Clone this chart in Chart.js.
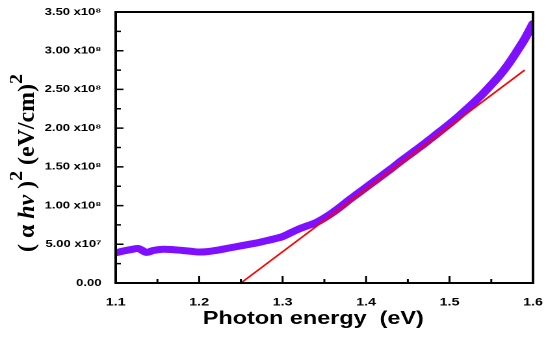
<!DOCTYPE html>
<html>
<head>
<meta charset="utf-8">
<script src="https://cdn.jsdelivr.net/npm/chart.js@4.4.1/dist/chart.umd.min.js"></script>
<style>
  html, body { margin: 0; padding: 0; background: #fff; overflow: hidden; }
  /* the source picture is stretched sideways, so draw narrow and stretch */
  #wrap { width: 423px; height: 337px; transform: scaleX(1.3); transform-origin: 0 0; }
</style>
</head>
<body>
<div id="wrap"><canvas id="tauc" width="423" height="337"></canvas></div>
<script>
// Photon energy (eV) and (alpha h v)^2 values
const energy = [1.10, 1.11, 1.12, 1.127, 1.137, 1.145, 1.155, 1.17, 1.18, 1.19,
  1.20, 1.21, 1.22, 1.23, 1.24, 1.25, 1.26, 1.27, 1.28, 1.29,
  1.30, 1.31, 1.32, 1.33, 1.34, 1.35, 1.36, 1.37, 1.38, 1.39,
  1.40, 1.41, 1.42, 1.43, 1.44, 1.45, 1.46, 1.47, 1.48, 1.49,
  1.50, 1.51, 1.52, 1.53, 1.54, 1.55, 1.56, 1.57, 1.58, 1.59, 1.60];
const alphaHv2 = [3.9e7, 4.15e7, 4.35e7, 4.45e7, 3.95e7, 4.2e7, 4.35e7, 4.3e7, 4.2e7, 4.1e7,
  4.0e7, 4.05e7, 4.2e7, 4.4e7, 4.6e7, 4.8e7, 5.0e7, 5.2e7, 5.45e7, 5.7e7,
  6.0e7, 6.5e7, 7.0e7, 7.4e7, 7.8e7, 8.4e7, 9.1e7, 9.9e7, 1.075e8, 1.155e8,
  1.235e8, 1.315e8, 1.395e8, 1.475e8, 1.56e8, 1.64e8, 1.72e8, 1.80e8, 1.885e8, 1.97e8,
  2.055e8, 2.145e8, 2.24e8, 2.34e8, 2.445e8, 2.56e8, 2.68e8, 2.82e8, 2.98e8, 3.15e8, 3.35e8];

// linear fit (band gap extrapolation)
const fitEnergy = [1.25, 1.59];
const fitValue = [0, 2.75e8];

const xMin = 1.1, xMax = 1.6, xStep = 0.1, xMinorStep = 0.05;
const yMin = 0, yMax = 3.5e8, yStep = 5e7, yMinorStep = 2.5e7;

const SANS = 'Arial, "Liberation Sans", sans-serif';
const SERIF = '"Times New Roman", "Liberation Serif", serif';

function yLabel(v) {
  if (v === 0) return '0.00';
  if (v < 1e8) return (v / 1e7).toFixed(2) + ' x10\u2077';
  return (v / 1e8).toFixed(2) + ' x10\u2078';
}

// frame, inward ticks and the two axis titles
const framePlugin = {
  id: 'framePlugin',
  afterDraw(chart) {
    const { ctx, chartArea: a, scales: { x, y } } = chart;
    ctx.save();
    ctx.strokeStyle = '#000';
    ctx.lineWidth = 1.5;
    ctx.beginPath();
    const nx = Math.round((xMax - xMin) / xMinorStep);
    for (let i = 0; i <= nx; i++) {
      const px = x.getPixelForValue(xMin + i * xMinorStep);
      const len = i % 2 === 0 ? 7 : 4;
      ctx.moveTo(px, a.bottom);
      ctx.lineTo(px, a.bottom - len);
    }
    const ny = Math.round((yMax - yMin) / yMinorStep);
    for (let i = 0; i <= ny; i++) {
      const py = y.getPixelForValue(yMin + i * yMinorStep);
      const len = i % 2 === 0 ? 6 : 4;
      ctx.moveTo(a.left, py);
      ctx.lineTo(a.left + len, py);
    }
    ctx.stroke();

    ctx.lineWidth = 2;
    ctx.strokeRect(a.left, a.top, a.right - a.left, a.bottom - a.top);

    // x title
    ctx.fillStyle = '#000';
    ctx.font = 'bold 18px ' + SANS;
    ctx.textAlign = 'center';
    ctx.textBaseline = 'middle';
    ctx.fillText('Photon energy  (eV)', 241, 319);

    // y title, rotated, with italic hv and raised 2s
    const main = 'bold 18px ' + SERIF;
    const ital = 'italic bold 18px ' + SERIF;
    const sup = 'bold 15px ' + SERIF;
    const parts = [
      { t: '( \u03b1 ', f: main, dy: 0 },
      { t: 'hv', f: ital, dy: 0 },
      { t: ' )', f: main, dy: 0 },
      { t: '2', f: sup, dy: -9 },
      { t: ' (eV/cm)', f: main, dy: 0 },
      { t: '2', f: sup, dy: -9 }
    ];
    let total = 0;
    parts.forEach(p => { ctx.font = p.f; p.w = ctx.measureText(p.t).width; total += p.w; });
    const k = 178 / total;
    ctx.translate(26, 163);
    ctx.rotate(-Math.PI / 2);
    ctx.scale(k, 1);
    ctx.textAlign = 'left';
    ctx.textBaseline = 'alphabetic';
    let cx = -total / 2;
    parts.forEach(p => {
      ctx.font = p.f;
      ctx.fillText(p.t, cx, p.dy);
      cx += p.w;
    });
    ctx.restore();
  }
};

const ctx = document.getElementById('tauc').getContext('2d');
const tauc = new Chart(ctx, {
  type: 'line',
  data: {
    datasets: [{
      label: '(\u03b1hv)\u00b2',
      data: energy.map((e, i) => ({ x: e, y: alphaHv2[i] })),
      borderColor: '#7f0fff',
      borderWidth: 7,
      pointRadius: 0,
      tension: 0.3,
      borderCapStyle: 'round',
      borderJoinStyle: 'round',
      order: 2
    }, {
      label: 'fit',
      data: fitEnergy.map((e, i) => ({ x: e, y: fitValue[i] })),
      borderColor: '#ff0000',
      borderWidth: 1.5,
      pointRadius: 0,
      order: 1
    }]
  },
  options: {
    responsive: false,
    devicePixelRatio: 2,
    animation: false,
    layout: { padding: { top: 12, right: 13, left: 0, bottom: 0 } },
    plugins: {
      legend: { display: false },
      tooltip: { enabled: false }
    },
    scales: {
      x: {
        type: 'linear',
        min: xMin,
        max: xMax,
        grid: { display: false },
        border: { display: false },
        ticks: {
          stepSize: xStep,
          padding: 5,
          color: '#000',
          font: { family: SANS, size: 11, weight: 'bold' },
          callback: v => v.toFixed(1)
        },
        afterFit: s => { s.height = 54; }
      },
      y: {
        min: yMin,
        max: yMax,
        grid: { display: false },
        border: { display: false },
        ticks: {
          stepSize: yStep,
          padding: 3,
          color: '#000',
          font: { family: SANS, size: 10, weight: 'bold' },
          callback: v => yLabel(v)
        },
        afterFit: s => { s.width = 89; }
      }
    }
  },
  plugins: [framePlugin]
});
</script>
</body>
</html>
